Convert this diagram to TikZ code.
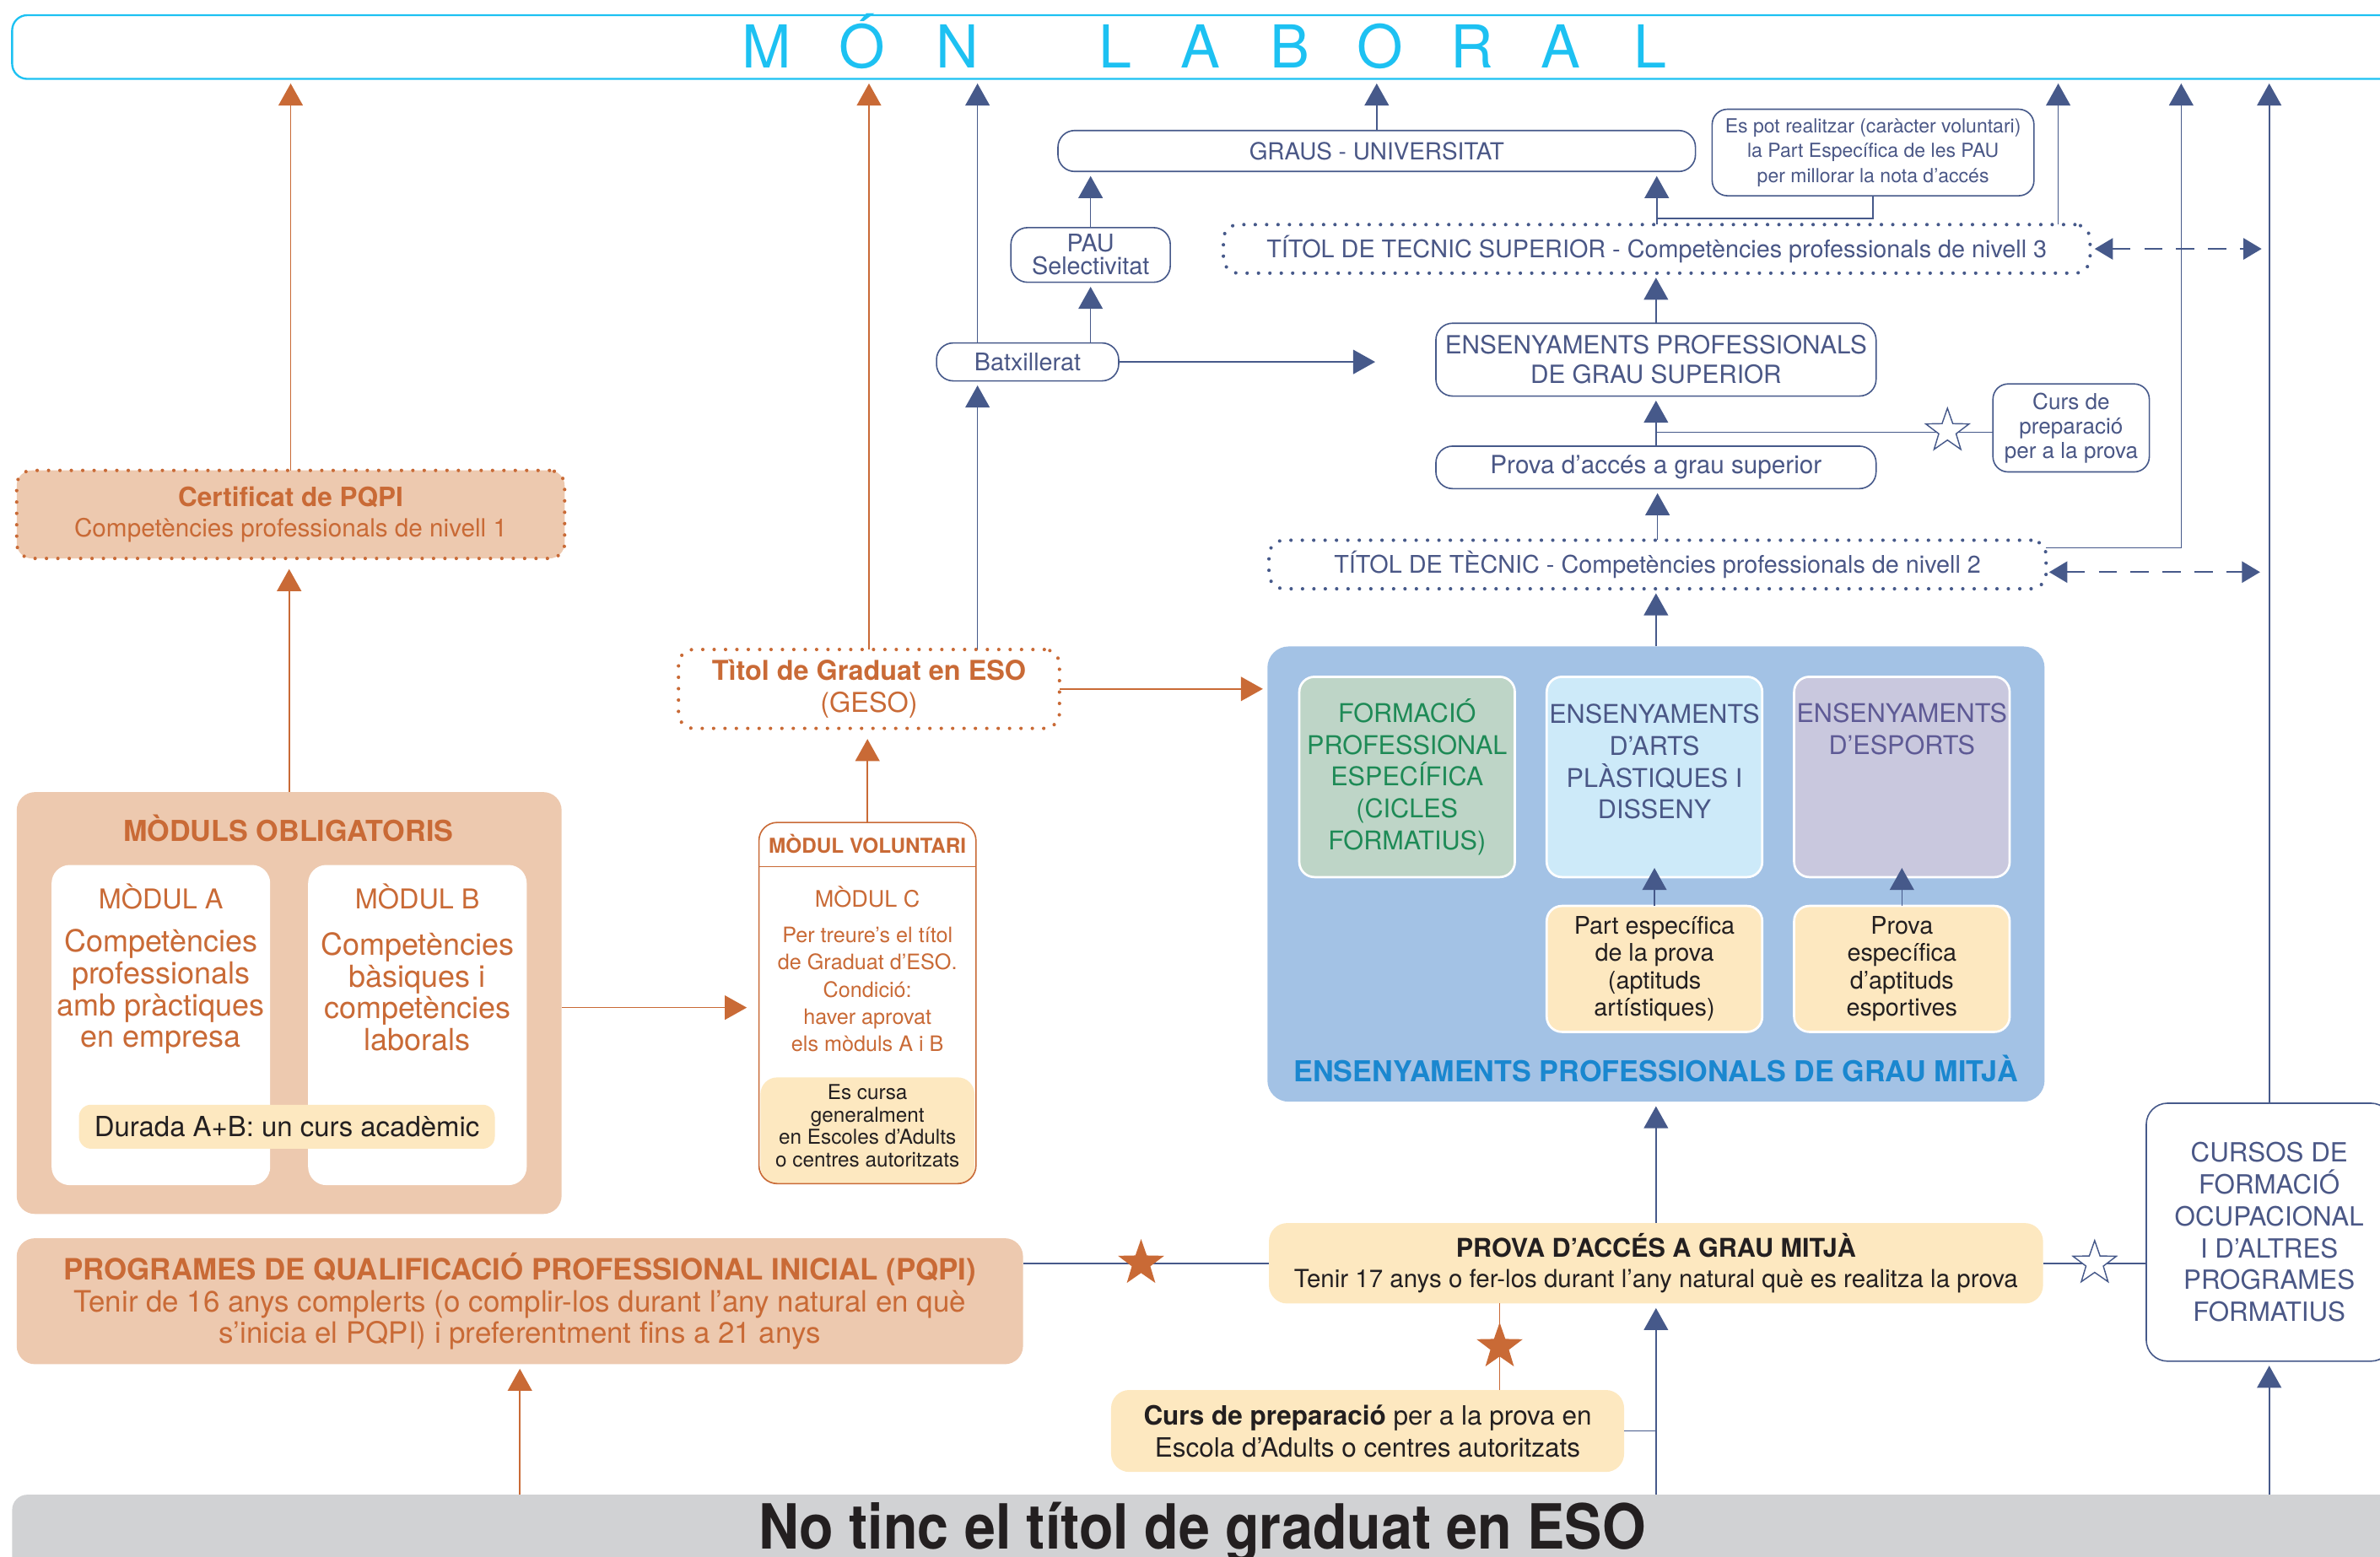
\documentclass[tikz,border=0pt]{standalone}
\usepackage{fontspec}
\setmainfont{TeX Gyre Heros}
\newfontfamily\condbold{TeX Gyre Heros}[FakeStretch=0.9]
\usetikzlibrary{arrows.meta,shapes.geometric,calc}
\newcommand{\myfs}[2]{\fontsize{#1}{#2}\selectfont}
\definecolor{cyanL}{HTML}{1DC1F2}
\definecolor{oran}{HTML}{C96A36}
\definecolor{ofill}{HTML}{EDC9AF}
\definecolor{bdark}{HTML}{46598A}
\definecolor{btext}{HTML}{4A5786}
\definecolor{yfill}{HTML}{FDE8C0}
\definecolor{bbig}{HTML}{A3C2E5}
\definecolor{gfill}{HTML}{BED5C7}
\definecolor{gtext}{HTML}{1E8A56}
\definecolor{cfill}{HTML}{CDEAF9}
\definecolor{lfill}{HTML}{C9C8DE}
\definecolor{ltext}{HTML}{5E5A95}
\definecolor{mtitle}{HTML}{1A87CF}
\definecolor{grayb}{HTML}{D1D2D4}
\definecolor{darkt}{HTML}{231F20}
\tikzset{
 obox/.style={fill=ofill, rounded corners=12pt, text=oran, align=center},
 wbox/.style={fill=white, rounded corners=12pt},
 bbox/.style={draw=bdark, line width=0.9pt, fill=white, rounded corners=11pt, text=btext, align=center},
 ybox/.style={fill=yfill, rounded corners=10pt, text=darkt, align=center},
 dotline/.style={line width=2.3pt, dash pattern=on 0pt off 7.5pt, line cap=round, rounded corners=10pt, align=center},
 barrow/.style={draw=bdark, line width=0.9pt, -{Triangle[width=16pt,length=14.5pt]}, shorten >=3pt},
 oarrow/.style={draw=oran, line width=0.9pt, -{Triangle[width=16pt,length=14.5pt]}, shorten >=3pt},
 bline/.style={draw=bdark, line width=0.8pt},
 oline/.style={draw=oran, line width=0.6pt},
 dblarrow/.style={draw=bdark, line width=1.3pt, dash pattern=on 12pt off 9pt, {Triangle[width=14pt,length=12pt]}-{Triangle[width=14pt,length=12pt]}},
 inbox/.style={draw=white, line width=1.5pt, rounded corners=10pt, align=center},
 fstar/.style={star, star points=5, star point ratio=2.5, fill=oran, minimum size=32},
 ostar/.style={star, star points=5, star point ratio=2.5, draw=bdark, fill=white, line width=0.8pt, minimum size=30},
}
\begin{document}
\begin{tikzpicture}[x=1pt,y=-1pt, every node/.style={inner sep=0pt, outer sep=0pt}]
\useasboundingbox (0,0) rectangle (1568,1026);
% banner
\node[draw=cyanL, line width=1.3pt, rounded corners=10pt, minimum width=1584, minimum height=42] (Banner) at (800,31) {};
\foreach \ch/\xx [count=\i] in {M/505,Ó/568,N/631,L/735,A/791,B/850,O/909,R/970,A/1028,L/1087}
  \node[text=cyanL, font=\myfs{39}{39}, anchor=base] (ml\i) at (\xx,45) {\ch};
% upper blue part
\node[bbox, minimum width=420, minimum height=27, font=\myfs{15.5}{18}] (Graus) at (907,99.5) {GRAUS - UNIVERSITAT};
\node[bbox, rounded corners=10pt, minimum width=212, minimum height=57, font=\myfs{12.8}{16.5}] (Note) at (1234,100.5) {Es pot realitzar (caràcter voluntari)\\la Part Específica de les PAU\\per millorar la nota d’accés};
\node[bbox, minimum width=105, minimum height=36, font=\myfs{16}{15}] (Pau) at (718.5,168) {PAU\\Selectivitat};
\node[draw=bdark, dotline, text=btext, minimum width=571, minimum height=32, font=\myfs{16}{18}] (TitSup) at (1091.5,164) {TÍTOL DE TECNIC SUPERIOR - Competències professionals de nivell 3};
\node[bbox, minimum width=120, minimum height=25, font=\myfs{16}{18}] (Batx) at (677,238.5) {Batxillerat};
\node[bbox, minimum width=290, minimum height=48, font=\myfs{16.5}{19.5}] (EnsSup) at (1091,237) {ENSENYAMENTS PROFESSIONALS\\DE GRAU SUPERIOR};
\node[bbox, minimum width=290, minimum height=28, font=\myfs{16.5}{19}] (ProvaSup) at (1091,308) {Prova d’accés a grau superior};
\node[bbox, rounded corners=10pt, minimum width=103, minimum height=58, font=\myfs{14.5}{16}] (CursPrep) at (1364.5,282) {Curs de\\preparació\\per a la prova};
\node[draw=bdark, dotline, text=btext, minimum width=512, minimum height=32, font=\myfs{16}{18}] (TitTec) at (1092,372) {TÍTOL DE TÈCNIC - Competències professionals de nivell 2};
% big blue
\node[fill=bbig, rounded corners=14pt, minimum width=512, minimum height=300] (Big) at (1091,576) {};
\node[inbox, fill=gfill, text=gtext, minimum width=142, minimum height=132, font=\myfs{17}{21}] (FPE) at (927,512) {FORMACIÓ\\PROFESSIONAL\\ESPECÍFICA\\(CICLES\\FORMATIUS)};
\node[inbox, fill=cfill, minimum width=142, minimum height=132] (ARTS) at (1090,512) {};
\node[text=btext, align=center, font=\myfs{17}{21}] (ARTSt) at (1090,502) {ENSENYAMENTS\\D’ARTS\\PLÀSTIQUES I\\DISSENY};
\node[inbox, fill=lfill, minimum width=142, minimum height=132] (ESP) at (1253,512) {};
\node[text=ltext, align=center, font=\myfs{17}{21}] (ESPt) at (1253,480.5) {ENSENYAMENTS\\D’ESPORTS};
\node[inbox, fill=yfill, text=darkt, minimum width=142, minimum height=83, font=\myfs{16}{18}] (Part) at (1090,638.5) {Part específica\\de la prova\\(aptituds\\artístiques)};
\node[inbox, fill=yfill, text=darkt, minimum width=142, minimum height=83, font=\myfs{16}{18}] (ProvaEsp) at (1253,638.5) {Prova\\específica\\d’aptituds\\esportives};
\node[text=mtitle, font=\bfseries\myfs{19}{21}] (MitjaT) at (1091,704) {ENSENYAMENTS PROFESSIONALS DE GRAU MITJÀ};
% orange left part
\node[draw=oran, dotline, text=oran, minimum width=251, minimum height=52, font=\myfs{18}{21}] (Geso) at (572.5,454) {\textbf{Tìtol de Graduat en ESO}\\(GESO)};
\node[draw=oran, dotline, fill=ofill, text=oran, minimum width=361, minimum height=58, font=\myfs{16.5}{20}] (Cert) at (191.5,339) {{\bfseries\myfs{17.5}{20}Certificat de PQPI}\\Competències professionals de nivell 1};
\node[obox, minimum width=359, minimum height=278] (Moduls) at (190.5,661) {};
\node[text=oran, font=\bfseries\myfs{19}{21}] (ModT) at (190,546) {MÒDULS OBLIGATORIS};
\node[wbox, minimum width=144, minimum height=211] (ModA) at (106,675.5) {};
\node[wbox, minimum width=144, minimum height=211] (ModB) at (275,675.5) {};
\node[text=oran, font=\myfs{18}{21}] (ModAt) at (106,591) {MÒDUL A};
\node[text=oran, align=center, font=\myfs{20}{21}] (ModAx) at (106,653.5) {Competències\\professionals\\amb pràctiques\\en empresa};
\node[text=oran, font=\myfs{18}{21}] (ModBt) at (275,591) {MÒDUL B};
\node[text=oran, align=center, font=\myfs{20}{21}] (ModBx) at (275,653.5) {Competències\\bàsiques i\\competències\\laborals};
\node[ybox, rounded corners=8pt, minimum width=274, minimum height=29, font=\myfs{18.3}{21}] (Durada) at (189,742.5) {Durada A+B: un curs acadèmic};
\node[fill=white, rounded corners=12pt, minimum width=143, minimum height=238] (ModVol) at (571.5,661) {};
\node[ybox, rounded corners=11pt, minimum width=141, minimum height=70] (VolY) at (571.5,745) {};
\draw[draw=oran, line width=0.9pt, rounded corners=12pt] (ModVol.north west) rectangle (ModVol.south east);
\draw[oran, line width=0.9pt] ([yshift=-29pt]ModVol.north west) -- ([yshift=-29pt]ModVol.north east);
\node[text=oran, font=\bfseries\myfs{13.5}{15}] (VolH) at (571.5,556) {MÒDUL VOLUNTARI};
\node[text=oran, font=\myfs{15}{17}] (VolC) at (571.5,591) {MÒDUL C};
\node[text=oran, align=center, font=\myfs{14}{18}] (VolX) at (571.5,652) {Per treure’s el títol\\de Graduat d’ESO.\\Condició:\\haver aprovat\\els mòduls A i B};
\node[text=darkt, align=center, font=\myfs{13.5}{14.7}] (VolYx) at (571.5,742) {Es cursa\\generalment\\en Escoles d’Adults\\o centres autoritzats};
% lower part
\node[obox, minimum width=663, minimum height=83, font=\myfs{19.4}{21}] (Pqpi) at (342.5,857.5) {{\bfseries PROGRAMES DE QUALIFICACIÓ PROFESSIONAL INICIAL (PQPI)}\\Tenir de 16 anys complerts (o complir-los durant l’any natural en què\\s’inicia el PQPI) i preferentment fins a 21 anys};
\node[ybox, rounded corners=12pt, minimum width=510, minimum height=53, font=\myfs{16.4}{20}] (ProvaM) at (1091,832.5) {{\bfseries\myfs{17}{20}PROVA D’ACCÉS A GRAU MITJÀ}\\Tenir 17 anys o fer-los durant l’any natural què es realitza la prova};
\node[ybox, rounded corners=12pt, minimum width=338, minimum height=54, font=\myfs{17.5}{21}] (CursM) at (901,943) {\textbf{Curs de preparació} per a la prova en\\Escola d’Adults o centres autoritzats};
\node[bbox, rounded corners=14pt, minimum width=162, minimum height=170, font=\myfs{17.4}{21}] (Cursos) at (1495,812) {CURSOS DE\\FORMACIÓ\\OCUPACIONAL\\I D’ALTRES\\PROGRAMES\\FORMATIUS};
\node[fill=grayb, rounded corners=10pt, minimum width=1584, minimum height=60, anchor=north west] (Gray) at (8,985) {};
\node[text=darkt, font=\condbold\bfseries\myfs{41}{41}, anchor=base] (GrayT) at (792,1021) {No tinc el títol de graduat en ESO};
% connectors
\draw[oarrow] (Cert.north) -- (Cert.north |- Banner.south);
\draw[oarrow] (Geso.north) -- (Geso.north |- Banner.south);
\coordinate (gb) at ([xshift=197pt]Geso.north west);
\draw[barrow] (gb) -- (gb |- Batx.south);
\coordinate (bb) at ([xshift=27pt]Batx.north west);
\draw[barrow] (bb) -- (bb |- Banner.south);
\draw[barrow] (Graus.north) -- (Graus.north |- Banner.south);
\coordinate (ts) at ([xshift=-21pt]TitSup.north east);
\draw[barrow] (ts) -- (ts |- Banner.south);
\coordinate (tt) at ([yshift=11pt]TitTec.east);
\coordinate (tu) at ([xshift=89pt]tt);
\draw[barrow] (tt) -| (tu |- Banner.south);
\draw[barrow] (Cursos.north) -- (Cursos.north |- Banner.south);
\draw[barrow] (Pau.north) -- (Pau.north |- Graus.south);
\draw[barrow] (Pau.south |- Batx.north) -- (Pau.south);
\coordinate (bt) at (906,238.5);
\draw[barrow, shorten >=0pt] (Batx.east) -- (bt);
\draw[barrow] (TitSup.north) -- (TitSup.north |- Graus.south);
\coordinate (nj) at ([yshift=4pt]TitSup.north);
\draw[bline] (Note.south) |- (nj);
\draw[barrow] (EnsSup.north) -- (EnsSup.north |- TitSup.south);
\draw[barrow] (ProvaSup.north) -- (ProvaSup.north |- EnsSup.south);
\draw[bline] ([yshift=-3pt]CursPrep.west) -- ([yshift=-3pt]CursPrep.west -| ProvaSup.north);
\node[ostar] (st1) at (1283,284) {};
\draw[barrow] (TitTec.north) -- (TitTec.north |- ProvaSup.south);
\draw[barrow] (Big.north) -- (Big.north |- TitTec.south);
\coordinate (d1) at (1490,164);
\draw[dblarrow] ([xshift=3pt]TitSup.east) -- (d1);
\coordinate (d2) at (1489,377);
\draw[dblarrow] ([xshift=2pt,yshift=-5pt]TitTec.east) -- (d2);
\draw[barrow, shorten >=-6pt] (Part.north) -- (Part.north |- ARTS.south);
\draw[barrow, shorten >=-6pt] (ProvaEsp.north) -- (ProvaEsp.north |- ESP.south);
\draw[oarrow] (Geso.east) -- (Geso.east -| Big.west);
\draw[oarrow, shorten >=8pt] ([yshift=-3pt]Moduls.east) -- ([yshift=-3pt]Moduls.east -| ModVol.west);
\draw[oarrow, shorten >=7pt] (Moduls.north) -- (Moduls.north |- Cert.south);
\draw[oarrow, shorten >=7pt] (ModVol.north) -- (ModVol.north |- Geso.south);
\draw[bline, line width=1.2pt] (ProvaM.west) -- (ProvaM.west -| Pqpi.east);
\node[fstar] (st2) at ($(ProvaM.west)!0.52!(ProvaM.west -| Pqpi.east)$) {};
\draw[barrow] (ProvaM.north) -- (ProvaM.north |- Big.south);
\draw[bline, line width=1.2pt] (ProvaM.east) -- (ProvaM.east -| Cursos.west);
\node[ostar] (st3) at ($(ProvaM.east)!0.5!(ProvaM.east -| Cursos.west)$) {};
\coordinate (cm) at ([xshift=-82pt]CursM.north east);
\draw[oline] (cm) -- (cm |- ProvaM.south);
\node[fstar] (st4) at ($(cm)!0.5!(cm |- ProvaM.south)$) {};
\draw[bline] (CursM.east) -- (CursM.east -| ProvaM.south);
\draw[barrow] (ProvaM.south |- Gray.north) -- (ProvaM.south);
\draw[oarrow] (Pqpi.south |- Gray.north) -- (Pqpi.south);
\draw[barrow] (Cursos.south |- Gray.north) -- (Cursos.south);
\end{tikzpicture}
\end{document}
